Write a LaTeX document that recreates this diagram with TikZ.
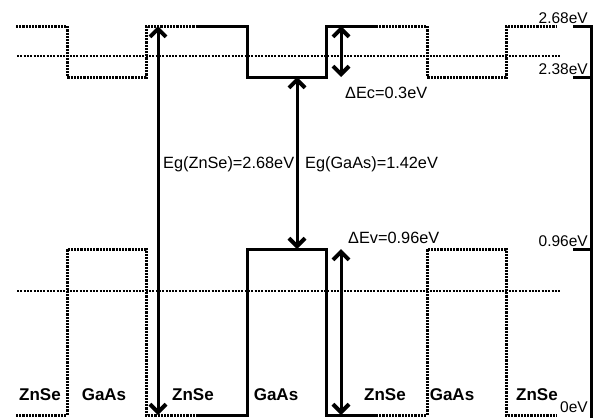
\documentclass[tikz,border=0pt]{standalone}
\usepackage{fontspec}
\setmainfont{Liberation Sans}
\usetikzlibrary{arrows.meta}

\tikzset{
	band/.style={line width=3pt},
	banddot/.style={line width=3pt, dash pattern=on 2.2pt off 1pt},
	refline/.style={line width=2.2pt, dash pattern=on 2pt off 1.3pt},
	gap/.style={line width=3pt, {Straight Barb[length=8pt,width=16pt,line width=4pt]}-{Straight Barb[length=8pt,width=16pt,line width=4pt]}},
	layer/.style={font=\fontsize{17}{20}\selectfont\bfseries},
	level/.style={font=\fontsize{15.5}{18}\selectfont, anchor=east},
}

\begin{document}
\begin{tikzpicture}[x=1pt, y=-1pt, every node/.style={font=\fontsize{16.3}{20}\selectfont, inner sep=0pt}]
	\useasboundingbox (0,0) rectangle (597,418);
	% reference lines
	\draw[refline] (17,56) -- (560,56);
	\draw[refline] (17,291) -- (560,291);
	% conduction and valence bands, one period per GaAs well
	\foreach \g/\s in {67/banddot, 247/band, 427/banddot} {
		\draw[\s] ({\g-51},26) -- (\g,26) -- (\g,77) -- ({\g+79},77) -- ({\g+79},26) -- ({\g+130},26);
		\draw[\s] ({\g-51},415) -- (\g,415) -- (\g,249) -- ({\g+79},249) -- ({\g+79},415) -- ({\g+130},415);
	}
	% energy axis
	\draw[band] (573,26) -- (591,26) -- (591,418);
	\foreach \y in {77,249} \draw[band] (573,\y) -- (591,\y);
	\node[level] (l268) at (588,18) {2.68eV};
	\node[level] (l238) at (588,69) {2.38eV};
	\node[level] (l096) at (588,241) {0.96eV};
	\node[level] (l0) at (588,407) {0eV};
	% gaps and offsets
	\coordinate (zc) at (158,26); \coordinate (zv) at (158,415);
	\coordinate (gc) at (297,77); \coordinate (gv) at (297,249);
	\coordinate (ect) at (341,26); \coordinate (ecb) at (341,77);
	\coordinate (evt) at (341,249); \coordinate (evb) at (341,415);
	\draw[gap] (zc) -- (zv);
	\draw[gap] (gc) -- (gv);
	\draw[gap] (ect) -- (ecb);
	\draw[gap] (evt) -- (evb);
	\node[anchor=west] (egz) at (163,164) {Eg(ZnSe)=2.68eV};
	\node[anchor=west] (egg) at (305,164) {Eg(GaAs)=1.42eV};
	\node[anchor=west] (dec) at (345,93) {ΔEc=0.3eV};
	\node[anchor=west] (dev) at (348,238) {ΔEv=0.96eV};
	% layer names
	\foreach \x/\t in {40/ZnSe, 104/GaAs, 193/ZnSe, 276/GaAs, 385/ZnSe, 452/GaAs, 537/ZnSe}
		\node[layer] (m\x) at (\x,395) {\t};
\end{tikzpicture}
\end{document}
